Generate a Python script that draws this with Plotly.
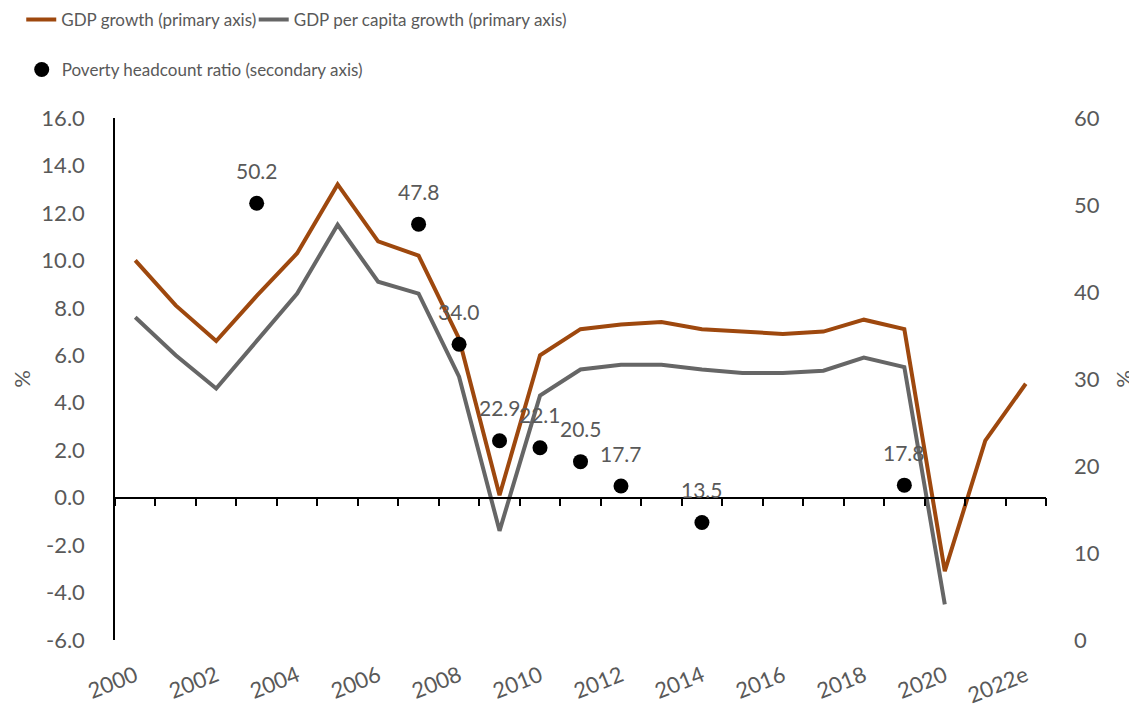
import plotly.graph_objects as go

years = ["2000", "2001", "2002", "2003", "2004", "2005", "2006", "2007", "2008", "2009",
         "2010", "2011", "2012", "2013", "2014", "2015", "2016", "2017", "2018", "2019",
         "2020", "2021", "2022e"]
gdp_growth = [10.0, 8.1, 6.6, 8.5, 10.3, 13.2, 10.8, 10.2, 6.7, 0.1,
              6.0, 7.1, 7.3, 7.4, 7.1, 7.0, 6.9, 7.0, 7.5, 7.1,
              -3.1, 2.4, 4.8]
gdp_pc_growth = [7.6, 6.0, 4.6, 6.6, 8.6, 11.5, 9.1, 8.6, 5.1, -1.4,
                 4.3, 5.4, 5.6, 5.6, 5.4, 5.25, 5.25, 5.35, 5.9, 5.5,
                 -4.5, None, None]
pov_years = ["2003", "2007", "2008", "2009", "2010", "2011", "2012", "2014", "2019"]
poverty = [50.2, 47.8, 34.0, 22.9, 22.1, 20.5, 17.7, 13.5, 17.8]
y_ticks = [-6, -4, -2, 0, 2, 4, 6, 8, 10, 12, 14, 16]
y2_ticks = [0, 10, 20, 30, 40, 50, 60]

FONT = "Lato"
GREY_TXT = "#595959"
ORANGE = "#9E480E"
GREY_LINE = "#666666"
TICK_SIZE = 22

fig = go.Figure()
fig.add_trace(go.Scatter(x=years, y=gdp_growth, mode="lines", name="GDP growth (primary axis)",
                         line=dict(color=ORANGE, width=4), legend="legend"))
fig.add_trace(go.Scatter(x=years, y=gdp_pc_growth, mode="lines", name="GDP per capita growth (primary axis)",
                         line=dict(color=GREY_LINE, width=4), legend="legend2"))
fig.add_trace(go.Scatter(x=pov_years, y=poverty, mode="markers", name="Poverty headcount ratio (secondary axis)",
                         marker=dict(color="black", size=15), yaxis="y2", legend="legend3"))
# invisible trace that carries the zero-line category axis with boundary ticks
fig.add_trace(go.Scatter(x=years, y=gdp_growth, mode="lines", xaxis="x2", yaxis="y",
                         line=dict(width=0), opacity=0, showlegend=False, hoverinfo="skip"))

# data labels for the poverty points (category index on the x scale)
for xv, yv in zip(pov_years, poverty):
    fig.add_annotation(x=years.index(xv), y=yv, xref="x", yref="y2", text=f"{yv:.1f}", showarrow=False,
                       yshift=33, font=dict(size=21, color=GREY_TXT, family=FONT))

leg_font = dict(size=17, color=GREY_TXT, family=FONT)

fig.update_layout(
    width=1129, height=701,
    margin=dict(l=107, r=91, t=110, b=69, autoexpand=False),
    paper_bgcolor="white", plot_bgcolor="white",
    font=dict(family=FONT, size=TICK_SIZE, color=GREY_TXT),
    xaxis=dict(type="category", categoryorder="array", categoryarray=years,
               range=[-0.5, 22.5], tickmode="array", tickvals=years[::2], ticktext=years[::2],
               tickangle=-22, showline=False, ticks="", showgrid=False, zeroline=False,
               ticklabelstandoff=18,
               tickfont=dict(size=TICK_SIZE, color=GREY_TXT, family=FONT)),
    xaxis2=dict(type="category", categoryorder="array", categoryarray=years,
                range=[-0.5, 22.5], overlaying="x", anchor="free", position=6/22,
                showline=True, linecolor="black", linewidth=1.5,
                ticks="outside", tickson="boundaries", ticklen=8, tickcolor="black", tickwidth=1.5,
                showticklabels=False, showgrid=False, zeroline=False),
    yaxis=dict(range=[-6, 16], tickmode="array", tickvals=y_ticks,
               ticktext=[f"{v:.1f}" for v in y_ticks],
               showline=True, linecolor="black", linewidth=1.5, ticks="",
               showgrid=False, zeroline=False, ticklabelstandoff=24,
               title=dict(text="%", font=dict(size=TICK_SIZE, color=GREY_TXT), standoff=14),
               tickfont=dict(size=TICK_SIZE, color=GREY_TXT)),
    yaxis2=dict(range=[0, 60], overlaying="y", side="right", tickmode="array", tickvals=y2_ticks,
                showline=False, ticks="", showgrid=False, zeroline=False, ticklabelstandoff=27,
                title=dict(text="%", font=dict(size=TICK_SIZE, color=GREY_TXT), standoff=22),
                tickfont=dict(size=TICK_SIZE, color=GREY_TXT)),
    legend=dict(x=-0.1007, y=1.188, xanchor="left", yanchor="middle", orientation="h",
                font=leg_font, bgcolor="rgba(0,0,0,0)"),
    legend2=dict(x=0.149, y=1.188, xanchor="left", yanchor="middle", orientation="h",
                 font=leg_font, bgcolor="rgba(0,0,0,0)"),
    legend3=dict(x=-0.1002, y=1.092, xanchor="left", yanchor="middle", orientation="h",
                 font=leg_font, bgcolor="rgba(0,0,0,0)"),
    showlegend=True,
)

fig.write_html("out.html")
